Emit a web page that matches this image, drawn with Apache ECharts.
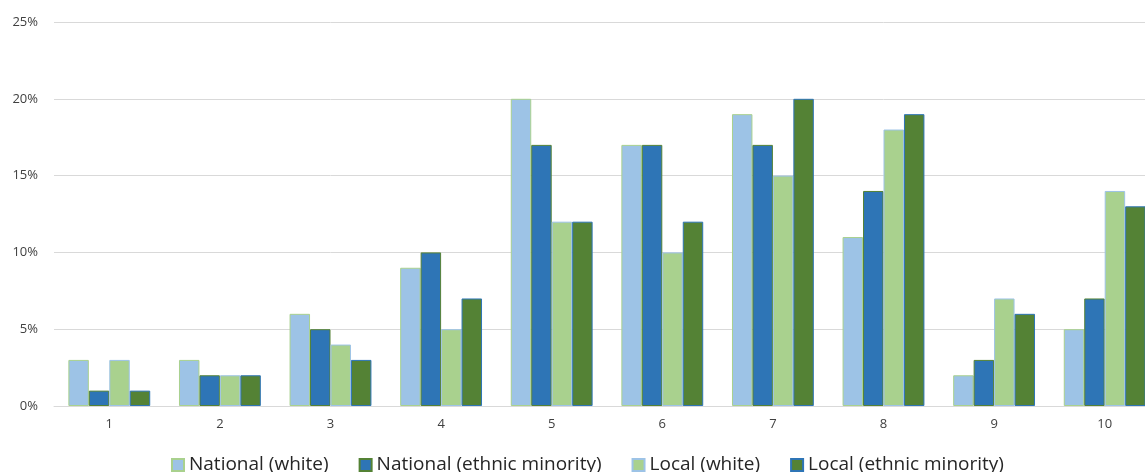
<!DOCTYPE html>
<html><head><meta charset="utf-8">
<script src="https://cdn.jsdelivr.net/npm/echarts@6/dist/echarts.min.js"></script>
<style>html,body{margin:0;padding:0;background:#fff;overflow:hidden}#c{width:1160px;height:472px}</style>
</head><body><div id="c"></div>
<script>
const categories = ['1','2','3','4','5','6','7','8','9','10'];
const seriesNames = ['National (white)','National (ethnic minority)','Local (white)','Local (ethnic minority)'];
const nationalWhite = [3,3,6,9,20,17,19,11,2,5];
const nationalMinority = [1,2,5,10,17,17,17,14,3,7];
const localWhite = [3,2,4,5,12,10,15,18,7,14];
const localMinority = [1,2,3,7,12,12,20,19,6,13];
const yTicks = [0,5,10,15,20,25];

const fills = ['#9DC3E6','#2E75B6','#A9D18E','#548235'];
const borders = ['#A9D18E','#548235','#9DC3E6','#2E75B6'];
const values = [nationalWhite, nationalMinority, localWhite, localMinority];

const chart = echarts.init(document.getElementById('c'));
chart.setOption({
  animation:false,
  grid:{left:54,top:22,right:0,height:384,containLabel:false},
  legend:{
    top:450,left:166,itemWidth:12,itemHeight:12,itemGap:30,
    icon:'rect',
    textStyle:{fontFamily:'Open Sans',fontSize:19,color:'#262626',lineHeight:20},
    data:seriesNames
  },
  xAxis:{type:'category',data:categories,
    axisLine:{lineStyle:{color:'#d9d9d9',width:1}},axisTick:{show:false},
    axisLabel:{color:'#404040',fontFamily:'Open Sans',fontSize:13,margin:12}},
  yAxis:{type:'value',min:0,max:25,interval:5,
    axisLabel:{formatter:v=>v+'%',color:'#404040',fontFamily:'Open Sans',fontSize:13,margin:16},
    splitLine:{lineStyle:{color:'#d9d9d9'}},axisLine:{show:false},axisTick:{show:false}},
  series: seriesNames.map((n,i)=>({
    name:n,type:'bar',data:values[i],barGap:'0%',barCategoryGap:'26%',
    itemStyle:{color:fills[i],borderColor:borders[i],borderWidth:1}
  }))
});
</script></body></html>
